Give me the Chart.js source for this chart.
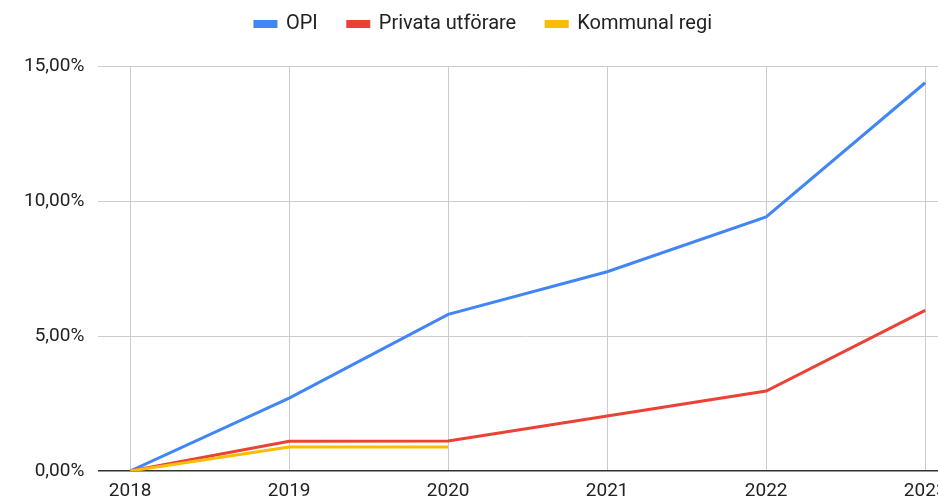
<!DOCTYPE html>
<html>
<head>
<meta charset="utf-8">
<script src="https://cdn.jsdelivr.net/npm/chart.js@4"></script>
<style>
  html, body { margin: 0; padding: 0; overflow: hidden; background: #fff; }
  #wrap { position: absolute; left: 0; top: 0; width: 960px; height: 501px; }
</style>
</head>
<body>
<div id="wrap"><canvas id="myChart"></canvas></div>
<script>
(() => {
  'use strict'

  const years = [2018, 2019, 2020, 2021, 2022, 2023]
  const opi = [0, 2.70, 5.80, 7.38, 9.41, 14.38]
  const privata = [0, 1.10, 1.11, 2.04, 2.96, 5.95]
  const kommunal = [0, 0.89, 0.89, null, null, null]
  const yTicks = [0, 5, 10, 15]

  const family = 'Roboto, "Liberation Sans", Arial, sans-serif'
  const font = { family, size: 19 }
  const toPoints = values => years.map((x, i) => ({ x, y: values[i] }))
  const pct = v => v.toFixed(2).replace('.', ',') + '%'

  // extra room between legend and plot
  const legendGap = {
    id: 'legendGap',
    beforeLayout(chart) {
      const lg = chart.legend
      if (!lg || lg._gapped) return
      const fit = lg.fit
      lg.fit = function () {
        fit.call(this)
        this.height += 22
      }
      lg._gapped = true
    }
  }

  function serie(label, values, color, order) {
    return {
      label,
      data: toPoints(values),
      borderColor: color,
      backgroundColor: color,
      borderWidth: 3,
      pointRadius: 0,
      pointHoverRadius: 0,
      tension: 0,
      spanGaps: false,
      order
    }
  }

  new Chart(document.getElementById('myChart'), {
    type: 'line',
    data: {
      datasets: [
        serie('OPI', opi, '#4285f4', 3),
        serie('Privata utförare', privata, '#ea4335', 2),
        serie('Kommunal regi', kommunal, '#fbbc04', 1)
      ]
    },
    plugins: [legendGap],
    options: {
      responsive: true,
      maintainAspectRatio: false,
      animation: false,
      layout: { padding: { left: 10, right: 3, top: -16, bottom: -11 } },
      plugins: {
        legend: {
          display: true,
          position: 'top',
          labels: {
            font: { family, size: 20 },
            color: '#222',
            boxWidth: 21,
            boxHeight: 5,
            padding: 30,
            sort: (a, b) => a.datasetIndex - b.datasetIndex
          }
        },
        tooltip: { enabled: false }
      },
      scales: {
        x: {
          type: 'linear',
          min: 2017.8,
          max: 2023.2,
          border: { display: false },
          grid: { color: '#cccccc', drawTicks: false },
          afterBuildTicks: axis => { axis.ticks = years.map(v => ({ value: v })) },
          ticks: {
            font: { ...font, lineHeight: 1 },
            color: '#222',
            padding: 11,
            maxRotation: 0,
            autoSkip: false,
            includeBounds: false,
            callback: v => String(v)
          }
        },
        y: {
          min: 0,
          max: 15,
          border: { display: false },
          grid: {
            color: c => (c.tick && c.tick.value === 0 ? '#333333' : '#cccccc'),
            lineWidth: c => (c.tick && c.tick.value === 0 ? 1.5 : 1),
            drawTicks: false
          },
          afterBuildTicks: axis => { axis.ticks = yTicks.map(v => ({ value: v })) },
          ticks: {
            font,
            color: '#222',
            padding: 14,
            callback: v => pct(v)
          }
        }
      }
    }
  })
})()
</script>
</body>
</html>
